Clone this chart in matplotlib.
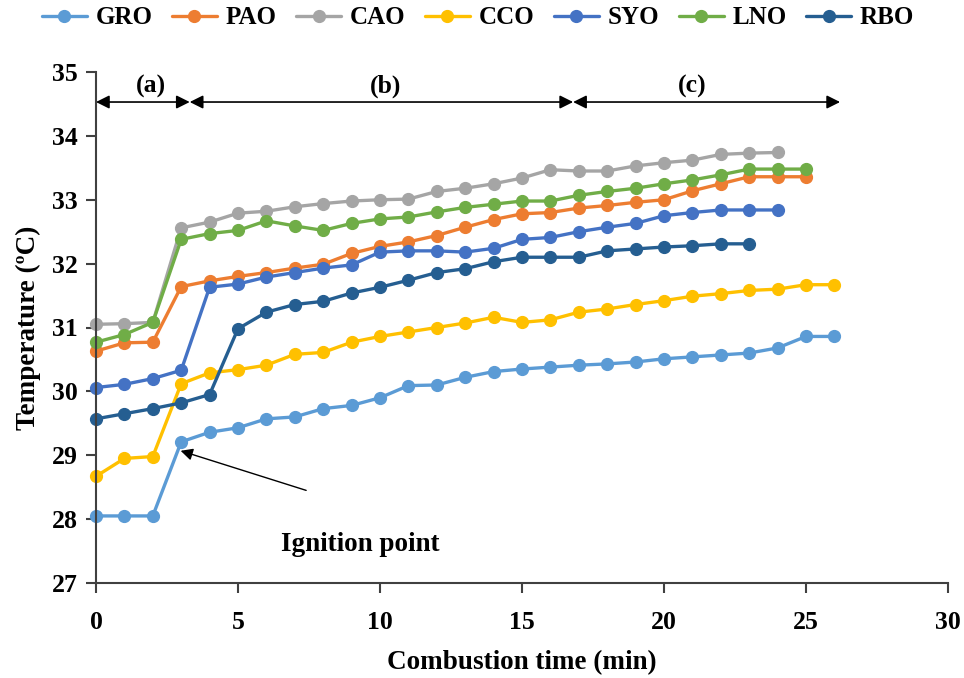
import matplotlib
matplotlib.use("Agg")
import matplotlib.pyplot as plt

# ---- data ----
series_names = ["GRO", "PAO", "CAO", "CCO", "SYO", "LNO", "RBO"]
GRO = [28.05, 28.05, 28.05, 29.21, 29.36, 29.43, 29.57, 29.60, 29.73, 29.78, 29.90,
       30.09, 30.10, 30.22, 30.31, 30.35, 30.38, 30.41, 30.43, 30.46, 30.51, 30.54,
       30.57, 30.60, 30.68, 30.86, 30.86]
PAO = [30.63, 30.76, 30.77, 31.64, 31.73, 31.80, 31.86, 31.93, 31.99, 32.16, 32.27,
       32.34, 32.44, 32.57, 32.69, 32.78, 32.80, 32.87, 32.91, 32.96, 33.00, 33.14,
       33.25, 33.36, 33.36, 33.36]
CAO = [31.05, 31.06, 31.08, 32.56, 32.65, 32.79, 32.82, 32.89, 32.94, 32.98, 33.00,
       33.01, 33.13, 33.18, 33.25, 33.34, 33.47, 33.45, 33.45, 33.53, 33.58, 33.62,
       33.71, 33.73, 33.74]
CCO = [28.67, 28.95, 28.98, 30.12, 30.29, 30.34, 30.41, 30.58, 30.61, 30.77, 30.86,
       30.93, 31.00, 31.07, 31.16, 31.08, 31.12, 31.24, 31.29, 31.36, 31.42, 31.49,
       31.53, 31.58, 31.60, 31.67, 31.67]
SYO = [30.06, 30.11, 30.20, 30.33, 31.63, 31.68, 31.79, 31.86, 31.93, 31.98, 32.18,
       32.20, 32.20, 32.18, 32.24, 32.38, 32.41, 32.50, 32.57, 32.63, 32.75, 32.80,
       32.84, 32.84, 32.84]
LNO = [30.77, 30.89, 31.08, 32.38, 32.47, 32.52, 32.67, 32.59, 32.52, 32.63, 32.70,
       32.73, 32.81, 32.88, 32.93, 32.98, 32.98, 33.07, 33.13, 33.18, 33.25, 33.31,
       33.39, 33.48, 33.48, 33.48]
RBO = [29.57, 29.65, 29.73, 29.82, 29.95, 30.98, 31.24, 31.36, 31.41, 31.54, 31.63,
       31.74, 31.86, 31.92, 32.03, 32.10, 32.10, 32.10, 32.20, 32.23, 32.26, 32.28,
       32.31, 32.31]
series_values = [GRO, PAO, CAO, CCO, SYO, LNO, RBO]
x_ticks = [0, 5, 10, 15, 20, 25, 30]
y_ticks = [27, 28, 29, 30, 31, 32, 33, 34, 35]
phase_bounds = [0, 3.3, 16.8, 26.2]
phase_labels = ["(a)", "(b)", "(c)"]

colors = ["#5B9BD5", "#ED7D31", "#A5A5A5", "#FFC000", "#4472C4", "#70AD47", "#255E91"]

plt.rcParams["font.family"] = ["Liberation Serif", "DejaVu Serif"]
plt.rcParams["font.weight"] = "bold"

fig = plt.figure(figsize=(9.64, 6.78), dpi=100)
ax = fig.add_axes([96/964, 1-583/678, 852/964, 511/678])

handles = []
for name, vals, c in zip(series_names, series_values, colors):
    h, = ax.plot(range(len(vals)), vals, color=c, lw=2.4, marker="o", ms=8.5,
                 label=name, solid_capstyle="round", clip_on=False)
    handles.append(h)

ax.set_xlim(0, 30)
ax.set_ylim(27, 35)
ax.set_xticks(x_ticks)
ax.set_yticks(y_ticks)
for s in ["top", "right"]:
    ax.spines[s].set_visible(False)
for s in ["left", "bottom"]:
    ax.spines[s].set_color("#404040")
    ax.spines[s].set_linewidth(1.5)
ax.tick_params(axis="both", direction="out", colors="#404040", width=1.5,
               labelcolor="black", labelsize=18.5)
ax.tick_params(axis="y", length=7, pad=6)
ax.tick_params(axis="x", length=7.5, pad=12.5)
for lab in ax.get_xticklabels() + ax.get_yticklabels():
    lab.set_fontweight("bold")

ax.set_xlabel("Combustion time (min)", fontsize=19.5, fontweight="bold", labelpad=12)
ax.set_ylabel("Temperature (ºC)", fontsize=19.5, fontweight="bold", labelpad=8)

# phase arrows
arrow_y = 34.53
for i, lab in enumerate(phase_labels):
    x0, x1 = phase_bounds[i], phase_bounds[i+1]
    ax.annotate("", xy=(x1, arrow_y), xytext=(x0, arrow_y),
                arrowprops=dict(arrowstyle="<|-|>", color="black", lw=1.2,
                                mutation_scale=20, shrinkA=0, shrinkB=0),
                annotation_clip=False)
label_x = [1.95, 10.2, 21.0]
for lab, lx in zip(phase_labels, label_x):
    ax.text(lx, 34.78, lab, ha="center", va="center", fontsize=18.5, fontweight="bold")

# ignition point
ax.annotate("", xy=(2.98, 29.07), xytext=(7.4, 28.45),
            arrowprops=dict(arrowstyle="-|>", color="black", lw=1.0,
                            mutation_scale=18, shrinkA=0, shrinkB=0))
ax.text(9.3, 27.6, "Ignition point", ha="center", va="center", fontsize=19.5,
        fontweight="bold")

fig.legend(handles=handles, labels=series_names, loc="center",
           bbox_to_anchor=(478/964, 1-18/678), ncol=7, frameon=False,
           prop=dict(family="Liberation Serif", weight="bold", size=18),
           handlelength=1.8, handletextpad=0.35, columnspacing=0.78,
           borderaxespad=0)

fig.savefig("out.png", dpi=100)
